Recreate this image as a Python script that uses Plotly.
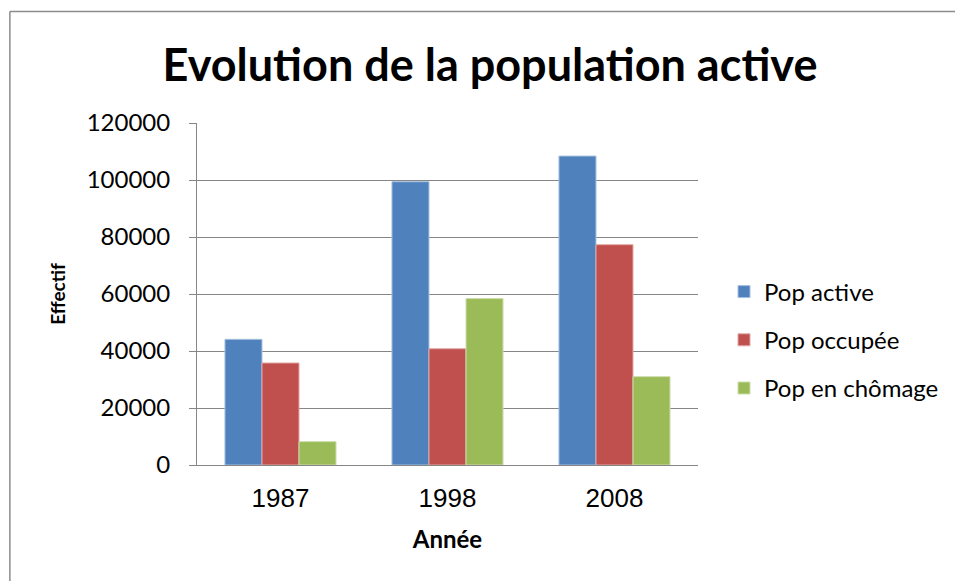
import plotly.graph_objects as go

# donnees
annees = ['1987', '1998', '2008']
pop_active = [44100, 99400, 108400]
pop_occupee = [35800, 40800, 77300]
pop_chomage = [8200, 58400, 31000]

series = [
    ('Pop active', pop_active, '#4F81BD', '#A7C0DE'),
    ('Pop occupée', pop_occupee, '#C0504D', '#E0A8A6'),
    ('Pop en chômage', pop_chomage, '#9BBB59', '#CDDDAC'),
]

W, H = 955, 581
L, R, T, B = 197, 699, 123, 465  # zone du graphe en pixels

fig = go.Figure()
for i, (nom, vals, coul, bord) in enumerate(series):
    fig.add_trace(go.Bar(x=annees, y=vals, name=nom, legendgroup=str(i),
                         marker=dict(color=coul, line=dict(color=bord, width=1))))

def px_x(p):
    return (p - L) / (R - L)

def px_y(p):
    return (B - p) / (B - T)

fig.update_layout(
    width=W, height=H,
    margin=dict(l=L, r=W - R, t=T, b=H - B),
    paper_bgcolor='white', plot_bgcolor='white',
    barmode='group', bargap=0.335, bargroupgap=0,
    title=dict(text='<b>Evolution de la population active</b>',
               font=dict(family='Lato', size=45, color='black'),
               x=490 / W, xanchor='center', y=1 - 65 / H, yanchor='middle'),
    xaxis=dict(showgrid=False, showline=True, linecolor='#868686', linewidth=1,
               ticks='', ticklabelstandoff=10,
               tickfont=dict(family='Liberation Sans', size=26, color='black'),
               title=dict(text='<b>Année</b>', font=dict(family='Lato', size=24, color='black'),
                          standoff=18)),
    yaxis=dict(range=[0, 120000], dtick=20000, showgrid=True, gridcolor='#868686',
               gridwidth=1, showline=True, linecolor='#868686', linewidth=1,
               ticks='outside', ticklen=7, tickcolor='#868686', zeroline=False,
               ticklabelstandoff=14,
               tickformat='d', tickfont=dict(family='Lato', size=24, color='black'),
               title=dict(text='<b>Effectif</b>', font=dict(family='Lato', size=19, color='black'),
                          standoff=16)),
    legend=dict(x=px_x(724), xanchor='left', y=px_y(340), yanchor='middle',
                font=dict(family='Lato', size=24, color='black'),
                tracegroupgap=14, itemwidth=30),
    shapes=[
        dict(type='line', xref='paper', yref='paper', x0=px_x(9.5), x1=px_x(W + 5),
             y0=px_y(11.5), y1=px_y(11.5), line=dict(color='#8C8C8C', width=1.5)),
        dict(type='line', xref='paper', yref='paper', x0=px_x(9.5), x1=px_x(9.5),
             y0=px_y(11.5), y1=px_y(H + 5), line=dict(color='#8C8C8C', width=1.5)),
    ],
)

# pas de marge autour du graphique dans la page
fig.write_html("out.html", config={'displayModeBar': False},
               post_script="document.body.style.margin='0';")
